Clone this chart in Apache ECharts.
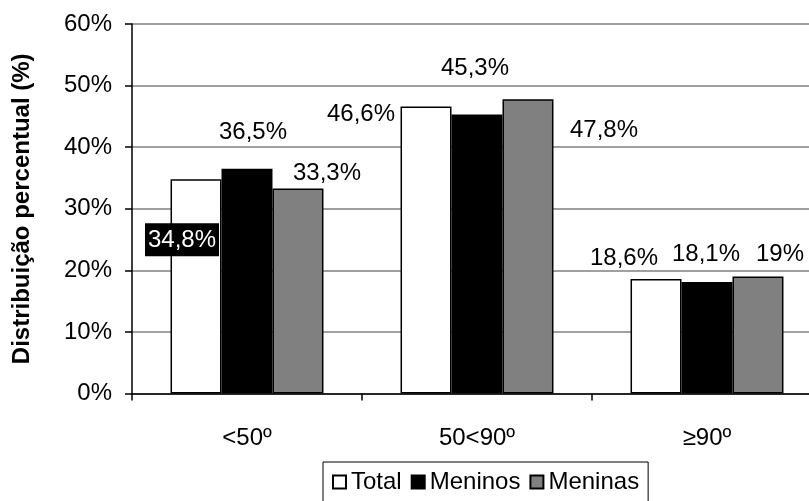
<!DOCTYPE html>
<html>
<head>
<meta charset="utf-8">
<script src="https://cdn.jsdelivr.net/npm/echarts@6/dist/echarts.min.js"></script>
<style>html,body{margin:0;padding:0;background:#fff}#c{width:809px;height:501px}</style>
</head>
<body>
<div id="c"></div>
<script>
var categories = ['<50º', '50<90º', '≥90º'];
var seriesNames = ['Total', 'Meninos', 'Meninas'];
var total = [34.8, 46.6, 18.6];
var meninos = [36.5, 45.3, 18.1];
var meninas = [33.3, 47.8, 19];
var yTicks = [0, 10, 20, 30, 40, 50, 60];

// label placement (style only)
var labelOffsets = [
  [[-14, 82], [-65, 25], [-32, -4]],
  [[6, -19], [-2, -29], [-1, -11]],
  [[29, 2], [76, 48], [22, -5]]
];
var colors = ['#ffffff', '#000000', '#808080'];
var FONT = 'Liberation Sans, Arial, sans-serif';
var FS = 24;

function fmt(v) { return String(v).replace('.', ',') + '%'; }

var values = [total, meninos, meninas];
var series = values.map(function (arr, si) {
  return {
    name: seriesNames[si],
    type: 'bar',
    barGap: '0%',
    barCategoryGap: '33.5%',
    itemStyle: { color: colors[si], borderColor: '#000', borderWidth: 1.5 },
    data: arr.map(function (v, ci) {
      var lab = {
        show: true, position: 'top', distance: 5,
        offset: labelOffsets[si][ci],
        formatter: function (p) { return fmt(p.value); },
        fontFamily: FONT, fontSize: FS, color: '#000'
      };
      if (si === 0 && ci === 0) {
        lab.color = '#fff';
        lab.backgroundColor = '#000';
        lab.padding = [5, 3, 4, 3];
      }
      return { value: v, label: lab };
    }),
    emphasis: { disabled: true }
  };
});

var chart = echarts.init(document.getElementById('c'), null, { renderer: 'canvas' });
chart.setOption({
  animation: false,
  backgroundColor: '#fff',
  grid: { left: 132, width: 690, top: 24, height: 369.6, containLabel: false, outerBoundsMode: 'none' },
  xAxis: {
    type: 'category',
    data: categories,
    axisLine: { lineStyle: { color: '#000', width: 1.5 } },
    axisTick: { show: true, length: 7, lineStyle: { color: '#000', width: 1.5 } },
    axisLabel: { margin: 33, fontFamily: FONT, fontSize: FS, color: '#000' }
  },
  yAxis: {
    type: 'value',
    min: yTicks[0], max: yTicks[yTicks.length - 1], interval: 10,
    name: 'Distribuição percentual (%)',
    nameLocation: 'middle',
    nameGap: 98,
    nameTextStyle: { fontFamily: FONT, fontSize: FS, fontWeight: 'bold', color: '#000' },
    axisLine: { show: true, lineStyle: { color: '#000', width: 1.5 } },
    axisTick: { show: true, length: 7, lineStyle: { color: '#000', width: 1.5 } },
    axisLabel: { margin: 20, fontFamily: FONT, fontSize: FS, color: '#000',
      formatter: function (v) { return v + '%'; } },
    splitLine: { show: true, lineStyle: { color: '#808080', width: 1.5 } }
  },
  legend: {
    data: seriesNames,
    left: 323,
    top: 462,
    padding: [8, 9, 14, 9],
    borderColor: '#000',
    borderWidth: 1,
    itemWidth: 13,
    itemHeight: 13,
    itemGap: 9,
    icon: 'rect',
    textStyle: { fontFamily: FONT, fontSize: FS, color: '#000' },
    selectedMode: false
  },
  series: series
});
</script>
</body>
</html>
